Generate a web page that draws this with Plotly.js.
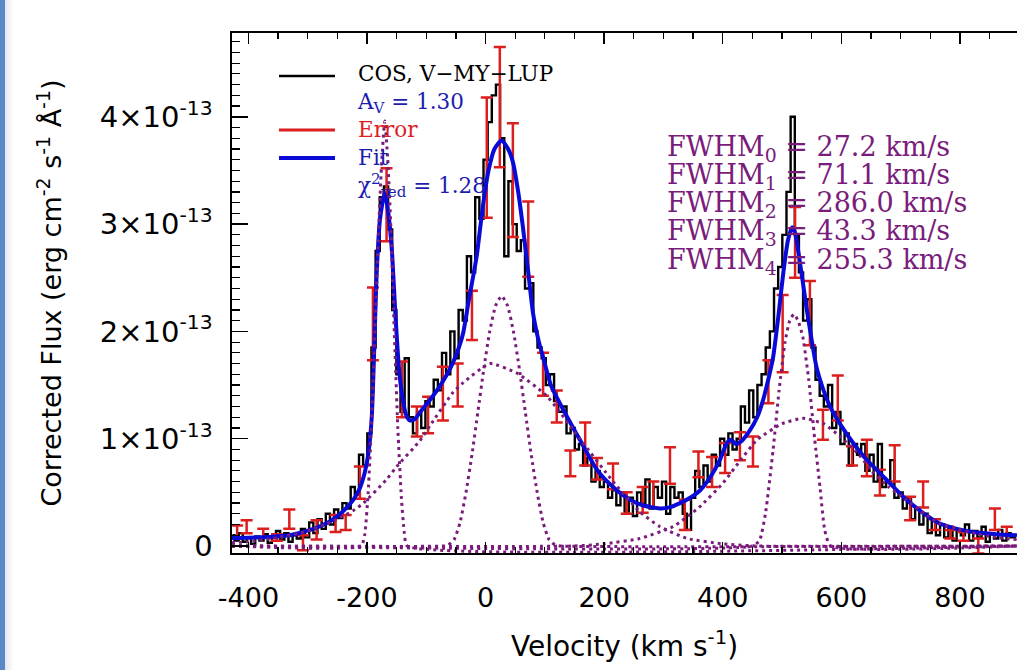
<!DOCTYPE html>
<html><head><meta charset="utf-8">
<script src="https://cdn.plot.ly/plotly-3.0.1.min.js"></script>
<style>
html,body{margin:0;padding:0;background:#fff;}
#wrap{position:relative;width:1017px;height:670px;overflow:hidden;}
#chart{width:1017px;height:670px;}
#edge{position:absolute;left:0;top:0;width:5px;height:670px;background:#5a88c6;}
#edge2{position:absolute;left:5px;top:0;width:9px;height:670px;background:linear-gradient(to right,#e3e7ee,#ffffff);}
</style></head><body>
<div id="wrap"><div id="chart"></div><div id="edge"></div><div id="edge2"></div></div>
<script>
// ---------------- DATA (flux in units of 1e-13 erg cm^-2 s^-1 A^-1) ----------------
const velStart = -427, velStep = 7;   // COS velocity grid (km/s)
const cosFlux = [
 0.10,0.05,0.12,0.04,0.08,0.02,0.09,0.05,0.11,0.03,
 0.08,0.14,0.06,0.12,0.04,0.10,0.07,0.16,0.08,0.22,
 0.12,0.25,0.16,0.30,0.20,0.34,0.26,0.40,0.35,0.55,
 0.48,0.85,0.75,1.05,1.85,2.75,3.25,3.35,2.95,2.20,
 1.60,1.25,1.75,1.20,1.05,1.25,1.10,1.35,1.30,1.55,
 1.45,1.80,1.60,2.00,1.75,2.20,2.10,2.70,2.55,3.25,
 3.05,3.60,3.95,4.20,4.30,3.80,2.70,3.40,3.00,2.75,
 2.85,2.40,2.45,2.00,1.85,1.75,1.50,1.60,1.35,1.25,
 1.30,1.05,1.10,0.90,0.95,0.75,0.82,0.60,0.70,0.55,
 0.60,0.45,0.52,0.38,0.48,0.32,0.45,0.28,0.50,0.40,
 0.62,0.35,0.55,0.45,0.60,0.30,0.55,0.45,0.50,0.30,
 0.15,0.45,0.70,0.55,0.75,0.60,0.85,0.75,1.00,0.85,
 1.05,0.90,1.00,1.30,1.15,1.45,1.20,1.50,1.60,1.85,
 2.00,2.40,2.60,2.90,3.30,4.00,2.90,2.55,2.10,2.30,
 1.85,1.55,1.40,1.30,1.50,1.10,1.25,0.95,1.05,0.75,
 0.95,0.85,0.95,0.70,0.85,0.60,0.95,0.55,0.60,0.80,
 0.45,0.50,0.35,0.45,0.25,0.35,0.20,0.30,0.12,0.25,
 0.10,0.20,0.08,0.18,0.05,0.15,0.10,0.20,0.05,0.14,
 0.08,0.18,0.04,0.12,0.07,0.15,0.05,0.12,0.08,0.10
];

// error bars (velocity, flux, half-size)
const errVel  = [-419,-403,-375,-352,-331,-308,-285,-253,-236,-212,-190,-167,-141,-116,-97,-72,-47,-23,2,24,46,72,97,120,143,168,188,215,238,265,283,311,336,359,382,404,429,451,477,501,522,547,569,594,618,643,665,690,716,738,758,784,806,831,859,879];
const errFlux = [0.13,0.18,0.12,0.08,0.25,0.03,0.15,0.21,0.22,0.59,2.07,3.18,1.46,1.16,1.22,1.42,1.50,2.15,3.62,4.09,3.41,2.86,1.60,1.30,0.77,0.95,0.72,0.65,0.40,0.43,0.48,0.75,0.29,0.76,0.69,0.82,0.93,0.88,1.53,1.98,2.83,2.17,1.13,1.38,0.84,0.82,0.59,0.77,0.35,0.48,0.20,0.11,0.09,0.00,0.25,0.14];
const errSize = [0.06,0.06,0.04,0.03,0.09,0.07,0.09,0.08,0.07,0.15,0.34,0.34,0.26,0.14,0.17,0.25,0.20,0.23,0.56,0.56,0.53,0.35,0.20,0.15,0.12,0.20,0.10,0.12,0.10,0.12,0.12,0.17,0.14,0.12,0.14,0.14,0.13,0.14,0.20,0.36,0.33,0.30,0.14,0.21,0.09,0.17,0.12,0.17,0.11,0.12,0.05,0.04,0.04,0.07,0.10,0.04];

// total fit
const fitVel  = [-428,-400,-364,-330,-308,-285,-262,-245,-234,-222,-212,-204,-198,-192,-188,-184,-178,-170,-164,-158,-152,-146,-140,-134,-128,-120,-110,-94,-76,-60,-45,-38,-28,-15,-5,5,15,27,38,46,55,63,72,80,90,97,110,131,160,188,215,244,265,294,310,328,345,362,380,395,407,414,422,432,446,458,468,478,485,494,502,510,517,522,527,534,541,550,558,570,581,600,620,640,665,690,710,740,766,795,822,860,896];
const fitFlux = [0.075,0.077,0.085,0.10,0.13,0.17,0.23,0.30,0.36,0.44,0.54,0.68,0.85,1.2,1.8,2.5,3.05,3.29,3.1,2.75,2.15,1.65,1.38,1.22,1.17,1.18,1.25,1.36,1.5,1.65,1.85,1.98,2.3,2.7,3.15,3.5,3.7,3.78,3.7,3.58,3.3,2.97,2.55,2.17,1.9,1.76,1.5,1.27,0.98,0.71,0.55,0.43,0.38,0.35,0.36,0.40,0.45,0.52,0.65,0.80,0.96,0.99,0.95,0.98,1.08,1.2,1.36,1.58,1.76,2.15,2.54,2.85,2.97,2.92,2.76,2.5,2.23,1.92,1.67,1.45,1.30,1.12,0.96,0.82,0.68,0.54,0.43,0.30,0.21,0.16,0.13,0.11,0.10];

// fit components (dotted)
const comp0Vel  = [-428,-210,-204,-198,-192,-186,-180,-175,-170,-165,-160,-154,-148,-142,-137,-132,896];
const comp0Flux = [0,0,0.10,0.50,1.20,2.10,3.00,3.60,3.96,3.60,3.00,2.00,1.10,0.45,0.12,0,0];
const comp1Vel  = [-428,-73,-63,-53,-43,-33,-23,-13,-3,7,17,27,37,47,57,67,77,87,97,107,117,127,896];
const comp1Flux = [0,0,0.01,0.06,0.22,0.50,0.85,1.25,1.65,2.00,2.24,2.33,2.24,2.00,1.65,1.25,0.85,0.50,0.22,0.06,0.01,0,0];
const comp2Vel  = [-428,-400,-350,-300,-262,-223,-206,-167,-150,-111,-94,-55,-38,7,53,103,159,215,260,294,340,400,460,896];
const comp2Flux = [0.03,0.04,0.08,0.14,0.22,0.33,0.40,0.62,0.74,0.98,1.12,1.43,1.52,1.70,1.61,1.40,1.00,0.60,0.32,0.18,0.07,0.02,0,0];
const comp3Vel  = [-428,450,462,472,485,495,505,513,520,527,535,545,555,564,572,582,896];
const comp3Flux = [0,0,0.05,0.30,0.90,1.45,1.90,2.10,2.16,2.10,1.95,1.55,1.00,0.55,0.15,0,0];
const comp4Vel  = [-428,150,200,260,316,360,401,430,458,500,536,570,598,630,654,680,710,740,766,795,822,860,896];
const comp4Flux = [0,0,0.02,0.07,0.18,0.36,0.59,0.80,0.99,1.14,1.19,1.14,1.02,0.85,0.68,0.55,0.43,0.30,0.21,0.16,0.12,0.08,0.06];

const fwhmValues = ['27.2','71.1','286.0','43.3','255.3'];
const legendLabels = ['COS, V\u2212MY\u2212LUP','A<sub>V</sub> = 1.30','Error','Fit','\u03c7<sup>2</sup><sub>red</sub> = 1.28'];
const xTickVals = [-400,-200,0,200,400,600,800];
const xTickText = ['-400','-200','0','200','400','600','800'];
const yTickVals = [0,1,2,3,4];
const yTickText = ['0','1\u00d710<sup>-13</sup>','2\u00d710<sup>-13</sup>','3\u00d710<sup>-13</sup>','4\u00d710<sup>-13</sup>'];

// ---------------- BUILD ----------------
const cosVel = cosFlux.map((_, i) => velStart + i * velStep);
const PURPLE = '#7a1c7b', BLUE = '#0a0ad8', RED = '#dc1e1e', TXTBLUE = '#1c1cb0';
const W = 1017, H = 670, L = 232, T = 33, B = 117, R = 0;
const pw = W - L - R, ph = H - T - B;
const px = x => (x - L) / pw;          // pixel -> paper
const py = y => (H - B - y) / ph;

const dotStyle = {color: PURPLE, width: 3, dash: '3px,4px'};
const traces = [
  {x: cosVel, y: cosFlux, type: 'scatter', mode: 'lines', line: {color: '#000', width: 2.4, shape: 'hvh'}, hoverinfo: 'skip'},
  {x: errVel, y: errFlux, type: 'scatter', mode: 'markers', marker: {size: 1, color: 'rgba(0,0,0,0)'},
   error_y: {type: 'data', array: errSize, visible: true, color: RED, thickness: 2.5, width: 6}},
  {x: fitVel, y: fitFlux, type: 'scatter', mode: 'lines', line: {color: BLUE, width: 4, shape: 'spline', smoothing: 0.6}},
  {x: comp0Vel, y: comp0Flux, type: 'scatter', mode: 'lines', line: Object.assign({shape: 'spline', smoothing: 0.5}, dotStyle)},
  {x: comp1Vel, y: comp1Flux, type: 'scatter', mode: 'lines', line: Object.assign({shape: 'spline', smoothing: 0.5}, dotStyle)},
  {x: comp2Vel, y: comp2Flux, type: 'scatter', mode: 'lines', line: Object.assign({shape: 'spline', smoothing: 0.5}, dotStyle)},
  {x: comp3Vel, y: comp3Flux, type: 'scatter', mode: 'lines', line: Object.assign({shape: 'spline', smoothing: 0.5}, dotStyle)},
  {x: comp4Vel, y: comp4Flux, type: 'scatter', mode: 'lines', line: Object.assign({shape: 'spline', smoothing: 0.5}, dotStyle)}
];

const serif = 'DejaVu Serif, Liberation Serif, serif';
const sans = 'DejaVu Sans, Liberation Sans, Arial, sans-serif';
const legColors = ['#000', TXTBLUE, RED, TXTBLUE, TXTBLUE];
const legendText = legendLabels.map((t, i) => '<span style="color:' + legColors[i] + '">' + t + '</span>').join('<br>');
const annotations = [{
  xref: 'paper', yref: 'paper', x: px(355), y: py(130.5), xanchor: 'left', yanchor: 'middle', align: 'left',
  text: legendText, showarrow: false, font: {family: serif, size: 21.5, color: '#000'}
}];
const fwY = [148, 176, 204, 232, 261];
fwhmValues.forEach((v, i) => annotations.push({
  xref: 'paper', yref: 'paper', x: px(665), y: py(fwY[i]), xanchor: 'left', yanchor: 'middle',
  text: 'FWHM<sub>' + i + '</sub> = ' + v + ' km/s', showarrow: false,
  font: {family: serif, size: 27, color: PURPLE}
}));

const shapes = [
  {type: 'line', xref: 'paper', yref: 'paper', x0: px(279), x1: px(335), y0: py(76), y1: py(76), line: {color: '#000', width: 2.4}},
  {type: 'line', xref: 'paper', yref: 'paper', x0: px(279), x1: px(335), y0: py(130), y1: py(130), line: {color: RED, width: 3}},
  {type: 'line', xref: 'paper', yref: 'paper', x0: px(279), x1: px(335), y0: py(158), y1: py(158), line: {color: BLUE, width: 4}}
];

const layout = {
  width: W, height: H,
  margin: {l: L, r: R, t: T, b: B, pad: 0},
  paper_bgcolor: '#fff', plot_bgcolor: '#fff',
  showlegend: false,
  xaxis: {
    range: [-427.7, 896.3], tickmode: 'array', tickvals: xTickVals, ticktext: xTickText,
    ticks: 'inside', ticklen: 11, tickwidth: 1.5, tickcolor: '#000',
    showline: true, linecolor: '#000', linewidth: 1.6, mirror: 'ticks',
    showgrid: false, zeroline: false,
    minor: {ticks: 'inside', ticklen: 6, tickwidth: 1.2, tickcolor: '#000', dtick: 50, tick0: 0, showgrid: false},
    tickfont: {family: sans, size: 27, color: '#000'}, ticklabelstandoff: 20,
    title: {text: 'Velocity (km s<sup>-1</sup>)', font: {family: sans, size: 28, color: '#000'}, standoff: 24}
  },
  yaxis: {
    range: [-0.0652, 4.781], tickmode: 'array', tickvals: yTickVals, ticktext: yTickText,
    ticks: 'inside', ticklen: 16, tickwidth: 1.5, tickcolor: '#000',
    showline: true, linecolor: '#000', linewidth: 1.6, mirror: false,
    showgrid: false, zeroline: false,
    minor: {ticks: 'inside', ticklen: 8, tickwidth: 1.2, tickcolor: '#000', dtick: 0.1, tick0: 0, showgrid: false},
    tickfont: {family: sans, size: 29, color: '#000'}, ticklabelstandoff: 12,
    title: {text: 'Corrected Flux (erg cm<sup>-2</sup> s<sup>-1</sup> \u00c5<sup>-1</sup>)', font: {family: sans, size: 27, color: '#000'}, standoff: 30}
  },
  annotations: annotations,
  shapes: shapes
};

Plotly.newPlot('chart', traces, layout, {staticPlot: true, displayModeBar: false});
</script>
</body></html>
